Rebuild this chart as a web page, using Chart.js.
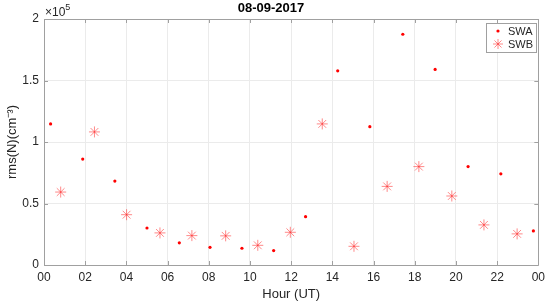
<!DOCTYPE html>
<html>
<head>
<meta charset="utf-8">
<script src="https://cdn.jsdelivr.net/npm/chart.js@4"></script>
<style>
  body { margin: 0; background: #fff; }
  #wrap { width: 550px; height: 306px; }
</style>
</head>
<body>
<div id="wrap"><canvas id="rmsChart"></canvas></div>
<script>
// hour of day (UT) and rms(N) in cm^-3
var swaHour = [0.32, 1.88, 3.44, 5.00, 6.57, 8.06, 9.61, 11.15, 12.70, 14.26, 15.82, 17.42, 18.99, 20.59, 22.18, 23.76];
var swaRms = [114700, 86100, 68200, 30100, 18000, 14400, 13600, 11700, 39300, 157900, 112500, 187600, 159000, 80000, 74100, 27700];

var swbHour = [0.81, 2.45, 4.01, 5.63, 7.18, 8.82, 10.38, 11.96, 13.51, 15.05, 16.66, 18.20, 19.80, 21.36, 22.97];
var swbRms = [59300, 108200, 40900, 26100, 23900, 23700, 16000, 26600, 114700, 15200, 63900, 80000, 56100, 32600, 25300];

var titleText = "08-09-2017";
var xTitle = "Hour (UT)";
var yTitle = "rms(N)(cm\u207B\u00B3)";

function toPoints(xs, ys){
  var pts = [];
  for (var i = 0; i < xs.length; i++){
    pts.push({x: xs[i], y: ys[i]});
  }
  return pts;
}

var fontName = "'Liberation Sans', Arial, sans-serif";

// box, inward ticks, exponent and legend like the matlab figure
var matlabBits = {
  id: 'matlabBits',
  afterDraw: function(chart){
    var c = chart.ctx;
    var a = chart.chartArea;
    var xs = chart.scales.x, ys = chart.scales.y;
    c.save();
    c.strokeStyle = '#a0a0a0';
    c.lineWidth = 1;
    c.beginPath();
    c.rect(Math.round(a.left) + 0.5, Math.round(a.top) + 0.5, Math.round(a.right - a.left), Math.round(a.bottom - a.top));
    c.stroke();
    c.beginPath();
    xs.ticks.forEach(function(t){
      var px = Math.round(xs.getPixelForValue(t.value)) + 0.5;
      c.moveTo(px, a.top); c.lineTo(px, a.top + 4);
      c.moveTo(px, a.bottom); c.lineTo(px, a.bottom - 4);
    });
    ys.ticks.forEach(function(t){
      var py = Math.round(ys.getPixelForValue(t.value)) + 0.5;
      c.moveTo(a.left, py); c.lineTo(a.left + 4, py);
      c.moveTo(a.right, py); c.lineTo(a.right - 4, py);
    });
    c.stroke();

    // x10^5
    c.fillStyle = '#262626';
    c.textBaseline = 'alphabetic';
    c.textAlign = 'left';
    c.font = '12px ' + fontName;
    c.fillText('\u00D710', a.left + 1, a.top - 3);
    var w = c.measureText('\u00D710').width;
    c.font = '9px ' + fontName;
    c.fillText('5', a.left + 1 + w, a.top - 9);

    // legend box
    var lx = 486, ly = 23, lw = 50, lh = 29;
    c.fillStyle = '#fff';
    c.fillRect(lx, ly, lw, lh);
    c.strokeStyle = '#a0a0a0';
    c.strokeRect(lx + 0.5, ly + 0.5, lw, lh);
    chart.data.datasets.forEach(function(ds, i){
      var cy = ly + 8 + i * 13;
      var cx = lx + 12;
      if (ds.pointStyle === 'star'){
        c.strokeStyle = ds.borderColor;
        c.lineWidth = 1;
        var r = 5;
        c.beginPath();
        c.moveTo(cx - r, cy); c.lineTo(cx + r, cy);
        c.moveTo(cx, cy - r); c.lineTo(cx, cy + r);
        var d = r * 0.707;
        c.moveTo(cx - d, cy - d); c.lineTo(cx + d, cy + d);
        c.moveTo(cx - d, cy + d); c.lineTo(cx + d, cy - d);
        c.stroke();
      } else {
        c.fillStyle = ds.backgroundColor;
        c.beginPath();
        c.arc(cx, cy, 1.6, 0, Math.PI * 2);
        c.fill();
      }
      c.fillStyle = '#262626';
      c.font = '11px ' + fontName;
      c.textBaseline = 'middle';
      c.fillText(ds.label, lx + 22, cy + 0.5);
    });
    c.restore();
  }
};

var ctx = document.getElementById('rmsChart').getContext('2d');
var rmsChart = new Chart(ctx, {
  type: 'scatter',
  data: {
    datasets: [{
      label: 'SWA',
      data: toPoints(swaHour, swaRms),
      pointStyle: 'circle',
      pointRadius: 1.6,
      backgroundColor: '#ff0000',
      borderColor: '#ff0000',
      borderWidth: 0
    }, {
      label: 'SWB',
      data: toPoints(swbHour, swbRms),
      pointStyle: 'star',
      pointRadius: 5.5,
      backgroundColor: 'rgba(255,0,0,0.5)',
      borderColor: 'rgba(255,40,40,0.55)',
      borderWidth: 1
    }]
  },
  options: {
    responsive: true,
    maintainAspectRatio: false,
    animation: false,
    layout: { padding: { left: 0, right: 8, top: 0, bottom: 0 } },
    plugins: {
      legend: { display: false },
      tooltip: { enabled: false },
      title: {
        display: true,
        text: titleText,
        color: '#000',
        font: { family: fontName, size: 13, weight: 'bold' },
        padding: { top: 1, bottom: 2.4 }
      }
    },
    scales: {
      x: {
        type: 'linear',
        min: 0,
        max: 24,
        afterFit: function(scale){ scale.height = 41; },
        grid: { color: '#ebebeb', drawTicks: false },
        border: { display: false },
        ticks: {
          stepSize: 2,
          padding: 5,
          color: '#262626',
          font: { family: fontName, size: 12 },
          maxRotation: 0,
          callback: function(v){
            var h = v % 24;
            return (h < 10 ? '0' : '') + h;
          }
        },
        title: {
          display: true,
          text: xTitle,
          color: '#262626',
          font: { family: fontName, size: 13 },
          padding: { top: 1, bottom: 4 }
        }
      },
      y: {
        min: 0,
        max: 200000,
        afterFit: function(scale){ scale.width = 44; },
        grid: { color: '#ebebeb', drawTicks: false },
        border: { display: false },
        ticks: {
          stepSize: 50000,
          padding: 5,
          color: '#262626',
          font: { family: fontName, size: 12 },
          callback: function(v){ return String(v / 100000); }
        },
        title: {
          display: true,
          text: yTitle,
          color: '#262626',
          font: { family: fontName, size: 13 },
          padding: { top: 5, bottom: 2 }
        }
      }
    }
  },
  plugins: [matlabBits]
});
</script>
</body>
</html>
